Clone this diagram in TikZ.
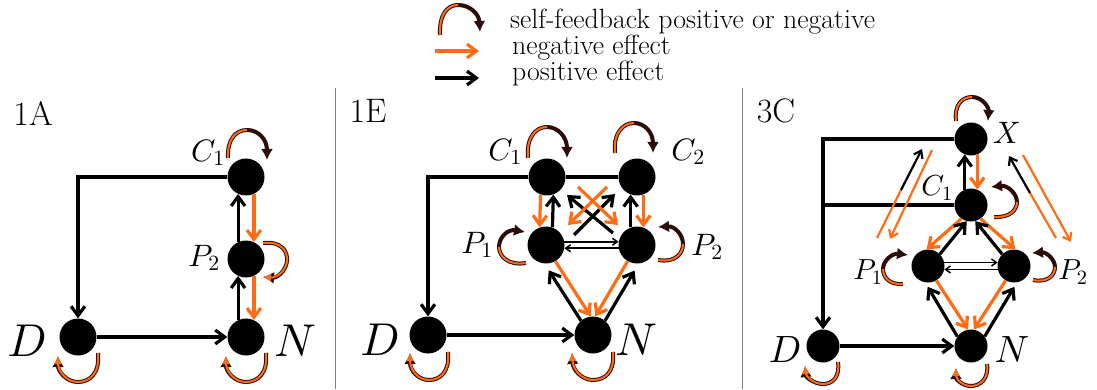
\documentclass[tikz,border=0pt]{standalone}
\usetikzlibrary{arrows.meta}

% skalierbare Mathe-Schriften
\DeclareFontShape{OML}{cmm}{m}{it}{<->cmmi10}{}
\DeclareFontShape{OT1}{cmr}{m}{n}{<->cmr10}{}
\DeclareFontShape{OMS}{cmsy}{m}{n}{<->cmsy10}{}

\definecolor{orng}{RGB}{255,108,20}
\definecolor{fbdark}{RGB}{45,12,12}
\definecolor{sepgray}{RGB}{130,130,130}

\tikzset{
  cell/.style={circle, fill=black, inner sep=0pt, minimum size=37pt},
  cellsm/.style={cell, minimum size=33pt},
  posarr/.style={->, line width=3.2pt, black},
  negarr/.style={->, line width=3.2pt, orng},
  plainline/.style={line width=3.2pt, black},
  weakarr/.style={->, line width=1.5pt, black},
  posl/.style={line width=2.2pt, black},
  negl/.style={line width=2.2pt, orng},
  fbunder/.style={draw=fbdark, line width=4pt, -{Latex[length=11pt,width=12pt]}},
  fbover/.style={draw=orng, line width=2pt},
  fbovertip/.style={draw=orng, line width=2pt, -{Latex[length=8pt,width=8pt]}},
  paneltitle/.style={inner sep=0pt, font=\fontsize{34}{34}\selectfont},
  lbl/.style={inner sep=0pt, font=\fontsize{31}{31}\selectfont},
  lblsm/.style={inner sep=0pt, font=\fontsize{29}{29}\selectfont},
  lblmid/.style={inner sep=0pt, font=\fontsize{38}{38}\selectfont},
  lblbig/.style={inner sep=0pt, font=\fontsize{46}{46}\selectfont},
  legtext/.style={inner sep=0pt, anchor=base west, font=\fontsize{27.8}{30}\selectfont}
}

\begin{document}
\begin{tikzpicture}[x=1pt, y=-1pt, >={Straight Barb[length=1pt 2.6,width=1pt 4]}]
  \useasboundingbox (0,0) rectangle (1097,390);

  % Legende
  \draw[fbunder] (440,35) .. controls (439,15) and (447,5) .. (458,5) .. controls (470,5) and (479,14) .. (480,32);
  \draw[fbover] (440,35) .. controls (439,15) and (447,5) .. (458,5);
  \coordinate (lgNa) at (435,51);
  \coordinate (lgNb) at (479,51);
  \coordinate (lgPa) at (435,78);
  \coordinate (lgPb) at (479,78);
  \draw[negarr] (lgNa) -- (lgNb);
  \draw[posarr] (lgPa) -- (lgPb);
  \node[legtext] (lgF) at (510,29) {self-feedback positive or negative};
  \node[legtext] (lgN) at (512,55) {negative effect};
  \node[legtext] (lgP) at (512,81) {positive effect};

  % Trennlinien
  \draw[sepgray, line width=1pt] (335,88) -- (335,389);
  \draw[sepgray, line width=1pt] (742,88) -- (742,389);

  % ---------- 1A ----------
  \node[paneltitle] (tA) at (33,113) {1A};
  \node[cell] (C1a) at (246,177) {};
  \node[cell] (P2a) at (246,259) {};
  \node[cell] (Na) at (246,337) {};
  \node[cell] (Da) at (78,337) {};
  \node[lbl] (lC1a) at (208,153) {$C_1$};
  \node[lbl] (lP2a) at (204,258) {$P_2$};
  \node[lblbig] (lDa) at (27,341) {$D$};
  \node[lblbig] (lNa) at (295,341) {$N$};

  \draw[posarr] (C1a) -| (Da);
  \draw[posarr] (Da) -- (Na);
  \draw[posarr] (Na.115) -- (P2a.245);
  \draw[posarr] (P2a.115) -- (C1a.245);
  \draw[negarr] (C1a.295) -- (P2a.65);
  \draw[negarr] (P2a.295) -- (Na.65);

  \begin{scope}[shift={(C1a)}]
    \draw[fbunder] (-18,-19) .. controls (-19,-38) and (-10,-47) .. (1,-47) .. controls (13,-47) and (21,-37) .. (21,-17);
    \draw[fbover] (-18,-19) .. controls (-19,-38) and (-10,-47) .. (1,-47);
  \end{scope}
  \begin{scope}[shift={(P2a)}]
    \draw[fbunder] (17,-16) .. controls (35,-18) and (42,-8) .. (41,2) .. controls (40,12) and (31,19) .. (17,18);
    \draw[fbovertip] (17,-16) .. controls (35,-18) and (42,-8) .. (41,2) .. controls (40,12) and (31,19) .. (17,18);
  \end{scope}
  \begin{scope}[shift={(Da)}]
    \draw[fbunder] (20,16) .. controls (22,36) and (12,45) .. (0,45) .. controls (-12,45) and (-20,34) .. (-20,19);
    \draw[fbovertip] (20,16) .. controls (22,36) and (12,45) .. (0,45) .. controls (-12,45) and (-20,34) .. (-20,19);
  \end{scope}
  \begin{scope}[shift={(Na)}]
    \draw[fbunder] (20,16) .. controls (22,36) and (12,45) .. (0,45) .. controls (-12,45) and (-20,34) .. (-20,19);
    \draw[fbovertip] (20,16) .. controls (22,36) and (12,45) .. (0,45) .. controls (-12,45) and (-20,34) .. (-20,19);
  \end{scope}

  % ---------- 1E ----------
  \node[paneltitle] (tE) at (368,111) {1E};
  \node[cell] (C1e) at (547,177) {};
  \node[cell] (C2e) at (637,177) {};
  \node[cell] (P1e) at (546,245) {};
  \node[cell] (P2e) at (637,245) {};
  \node[cell] (Ne) at (593,335) {};
  \node[cell] (De) at (428,335) {};
  \node[lbl] (lC1e) at (505,152) {$C_1$};
  \node[lbl] (lC2e) at (688,152) {$C_2$};
  \node[lbl] (lP1e) at (477,245) {$P_1$};
  \node[lbl] (lP2e) at (707,247) {$P_2$};
  \node[lblbig] (lDe) at (380,340) {$D$};
  \node[lblbig] (lNe) at (636,340) {$N$};

  \draw[plainline] (C2e) -- (C1e);
  \draw[posarr] (C1e) -| (De);
  \draw[posarr] (De) -- (Ne);
  \draw[negarr] (C1e.250) -- (P1e.110);
  \draw[posarr] (P1e.70) -- (C1e.290);
  \draw[negarr] (C2e.290) -- (P2e.70);
  \draw[posarr] (P2e.110) -- (C2e.250);
  \draw[posarr] ([shift={(28,-10)}]P1e.center) -- ([shift={(-22,17)}]C2e.center);
  \draw[posarr] ([shift={(-24,-12)}]P2e.center) -- ([shift={(20,18)}]C1e.center);
  \draw[negarr] ([shift={(31,10)}]C1e.center) -- ([shift={(-19,-20)}]P2e.center);
  \draw[negarr] ([shift={(-30,10)}]C2e.center) -- ([shift={(22,-20)}]P1e.center);
  \draw[weakarr] (P1e.10) -- (P2e.170);
  \draw[weakarr] (P2e.190) -- (P1e.350);
  \draw[posarr, shorten >=8pt] (Ne.130) -- (P1e.265);
  \draw[negarr] (P1e.300) -- (Ne.97);
  \draw[posarr, shorten >=8pt] (Ne.50) -- (P2e.275);
  \draw[negarr] (P2e.240) -- (Ne.83);

  \begin{scope}[shift={(C1e)}]
    \draw[fbunder] (-19,-19) .. controls (-21,-40) and (-11,-50) .. (0,-50) .. controls (11,-50) and (20,-40) .. (20,-19);
    \draw[fbover] (-19,-19) .. controls (-21,-40) and (-11,-50) .. (0,-50);
  \end{scope}
  \begin{scope}[shift={(C2e)}]
    \draw[fbunder] (-22,-24) .. controls (-24,-44) and (-14,-54) .. (-3,-54) .. controls (8,-54) and (16,-44) .. (16,-24);
    \draw[fbover] (-22,-24) .. controls (-24,-44) and (-14,-54) .. (-3,-54);
  \end{scope}
  \begin{scope}[shift={(P1e)}]
    \draw[fbunder] (-20,18) .. controls (-38,21) and (-47,11) .. (-47,2) .. controls (-47,-8) and (-38,-16) .. (-21,-13);
    \draw[fbover] (-20,18) .. controls (-38,21) and (-47,11) .. (-47,2);
  \end{scope}
  \begin{scope}[shift={(P2e)}]
    \draw[fbunder] (21,15) .. controls (39,18) and (46,8) .. (46,-1) .. controls (46,-10) and (38,-19) .. (21,-18);
    \draw[fbover] (21,15) .. controls (39,18) and (46,8) .. (46,-1);
  \end{scope}
  \begin{scope}[shift={(De)}]
    \draw[fbunder] (20,17) .. controls (22,37) and (12,45) .. (1,45) .. controls (-10,45) and (-18,35) .. (-18,18);
    \draw[fbovertip] (20,17) .. controls (22,37) and (12,45) .. (1,45) .. controls (-10,45) and (-18,35) .. (-18,18);
  \end{scope}
  \begin{scope}[shift={(Ne)}]
    \draw[fbunder] (20,17) .. controls (22,37) and (12,45) .. (0,45) .. controls (-11,45) and (-20,35) .. (-21,18);
    \draw[fbovertip] (20,17) .. controls (22,37) and (12,45) .. (0,45) .. controls (-11,45) and (-20,35) .. (-21,18);
  \end{scope}

  % ---------- 3C ----------
  \node[paneltitle] (tC) at (776,111) {3C};
  \node[cellsm] (Xc) at (971,139) {};
  \node[cellsm] (C1c) at (971,205) {};
  \node[cellsm] (P1c) at (928,266) {};
  \node[cellsm] (P2c) at (1014,266) {};
  \node[cellsm] (Nc) at (971,346) {};
  \node[cellsm] (Dc) at (823,346) {};
  \node[lbl] (lXc) at (1007,133) {$X$};
  \node[lblsm] (lC1c) at (937,188) {$C_1$};
  \node[lblsm] (lP1c) at (868,272) {$P_1$};
  \node[lblsm] (lP2c) at (1073,272) {$P_2$};
  \node[lblmid] (lDc) at (785,350) {$D$};
  \node[lblmid] (lNc) at (1012,350) {$N$};

  \draw[posarr] (Xc) -| (Dc);
  \draw[plainline] (C1c) -- (C1c -| Dc);
  \draw[posarr] (Dc) -- (Nc);
  \draw[posarr] (C1c.112) -- (Xc.248);
  \draw[negarr] (Xc.292) -- (C1c.68);
  \draw[negarr] (C1c.235) -- (P1c.95);
  \draw[posarr] (P1c.45) -- (C1c.255);
  \draw[negarr] (C1c.305) -- (P2c.85);
  \draw[posarr] (P2c.135) -- (C1c.285);
  \draw[weakarr] (P1c.12) -- (P2c.168);
  \draw[weakarr] (P2c.192) -- (P1c.348);
  \draw[negarr] (P1c.300) -- (Nc.100);
  \draw[posarr, shorten >=5pt] (Nc.145) -- (P1c.260);
  \draw[negarr] (P2c.240) -- (Nc.80);
  \draw[posarr, shorten >=5pt] (Nc.35) -- (P2c.280);

  % lange Pfeile zu X
  \coordinate (lp1) at (877,238);
  \coordinate (lm1) at (901,190);
  \coordinate (lx1) at (922,149);
  \coordinate (ox1) at (932,150);
  \coordinate (op1) at (890,239);
  \coordinate (rp2) at (1056,238);
  \coordinate (rm2) at (1030,193);
  \coordinate (rx2) at (1009,156);
  \coordinate (ox2) at (1023,155);
  \coordinate (op2) at (1071,242);
  \draw[negl] (lp1) -- (lm1);
  \draw[posl, ->] (lm1) -- (lx1);
  \draw[negl, ->] (ox1) -- (op1);
  \draw[negl] (rp2) -- (rm2);
  \draw[posl, ->] (rm2) -- (rx2);
  \draw[negl, ->] (ox2) -- (op2);

  \begin{scope}[shift={(Xc)}]
    \draw[fbunder] (-15,-18) .. controls (-17,-34) and (-9,-42) .. (1,-42) .. controls (11,-42) and (18,-32) .. (17,-18);
    \draw[fbover] (-15,-18) .. controls (-17,-34) and (-9,-42) .. (1,-42);
  \end{scope}
  \begin{scope}[shift={(C1c)}]
    \draw[fbunder] (23,12) .. controls (40,13) and (46,4) .. (46,-3) .. controls (46,-11) and (37,-20) .. (20,-18);
    \draw[fbover] (23,12) .. controls (40,13) and (46,4) .. (46,-3);
  \end{scope}
  \begin{scope}[shift={(P1c)}]
    \draw[fbunder] (-25,18) .. controls (-40,19) and (-45,10) .. (-45,3) .. controls (-45,-5) and (-36,-13) .. (-20,-11);
    \draw[fbover] (-25,18) .. controls (-40,19) and (-45,10) .. (-45,3);
  \end{scope}
  \begin{scope}[shift={(P2c)}]
    \draw[fbunder] (19,14) .. controls (34,17) and (41,9) .. (41,1) .. controls (41,-6) and (33,-14) .. (18,-13);
    \draw[fbover] (19,14) .. controls (34,17) and (41,9) .. (41,1);
  \end{scope}
  \begin{scope}[shift={(Dc)}]
    \draw[fbunder] (15,16) .. controls (17,32) and (9,38) .. (0,38) .. controls (-9,38) and (-17,31) .. (-18,20);
    \draw[fbovertip] (15,16) .. controls (17,32) and (9,38) .. (0,38) .. controls (-9,38) and (-17,31) .. (-18,20);
  \end{scope}
  \begin{scope}[shift={(Nc)}]
    \draw[fbunder] (16,18) .. controls (18,33) and (9,40) .. (0,40) .. controls (-9,40) and (-15,33) .. (-15,22);
    \draw[fbovertip] (16,18) .. controls (18,33) and (9,40) .. (0,40) .. controls (-9,40) and (-15,33) .. (-15,22);
  \end{scope}
\end{tikzpicture}
\end{document}
